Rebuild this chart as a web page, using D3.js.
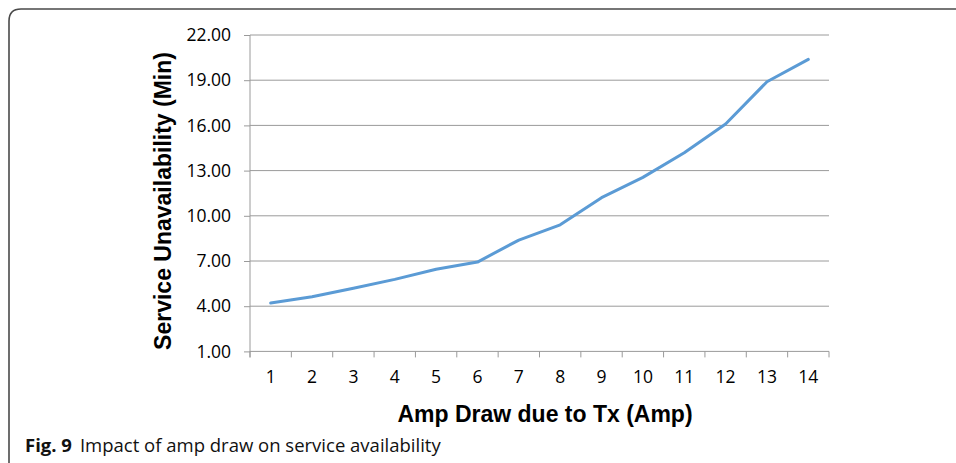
<!DOCTYPE html>
<html>
<head>
<meta charset="utf-8">
<script src="https://cdn.jsdelivr.net/npm/d3@7"></script>
<style>
html,body{margin:0;padding:0;background:#fff;}
svg{display:block;}
</style>
</head>
<body>
<svg id="chart" width="956" height="463"></svg>
<script>
const categories = ["1","2","3","4","5","6","7","8","9","10","11","12","13","14"];
const unavailability = [4.21, 4.63, 5.19, 5.78, 6.45, 6.93, 8.39, 9.40, 11.20, 12.55, 14.18, 16.09, 18.90, 20.38];
const yTicks = [1, 4, 7, 10, 13, 16, 19, 22];
const xTitle = "Amp Draw due to Tx (Amp)";
const yTitle = "Service Unavailability (Min)";
const captionBold = "Fig. 9";
const captionText = "Impact of amp draw on service availability";

(function () {
const svg = d3.select("#chart");
const pLeft = 250, pRight = 829, pTop = 35, pBottom = 351.4;

// frame
svg.append("path")
  .attr("d", "M9,470 L9,21 Q9,9 21,9 L960,9")
  .attr("fill", "none").attr("stroke", "#4a4a4a").attr("stroke-width", 1.6);

const x = d3.scaleBand().domain(categories).range([pLeft, pRight]);
const y = d3.scaleLinear().domain([1, 22]).range([pBottom, pTop]);

// gridlines
svg.append("g").selectAll("line").data(yTicks.filter(d => d > 1)).join("line")
  .attr("x1", pLeft).attr("x2", pRight)
  .attr("y1", d => y(d)).attr("y2", d => y(d))
  .attr("stroke", "#9a9a9a").attr("stroke-width", 1);

// y axis
const yAxis = svg.append("g").attr("transform", `translate(${pLeft},0)`)
  .call(d3.axisLeft(y).tickValues(yTicks).tickFormat(d3.format(".2f")).tickSize(6).tickPadding(13));
yAxis.select(".domain").attr("stroke", "#9a9a9a").attr("d", `M0,${pTop}V${pBottom + 6}`);
yAxis.selectAll(".tick line").attr("stroke", "#9a9a9a");
yAxis.selectAll("text").attr("font-family", "'Open Sans', sans-serif").attr("font-size", 17.5).attr("fill", "#000");

// x axis
const xAxis = svg.append("g").attr("transform", `translate(0,${pBottom})`)
  .call(d3.axisBottom(x).tickSize(0).tickPadding(19));
xAxis.select(".domain").attr("stroke", "#9a9a9a").attr("d", `M${pLeft},0H${pRight}`);
xAxis.selectAll("text").attr("font-family", "'Open Sans', sans-serif").attr("font-size", 17.5).attr("fill", "#000");
const edges = categories.map(c => x(c)).concat([x(categories[categories.length - 1]) + x.bandwidth()]);
xAxis.append("g").selectAll("line").data(edges).join("line")
  .attr("x1", d => d).attr("x2", d => d).attr("y1", 0).attr("y2", 6)
  .attr("stroke", "#9a9a9a");

// line
const line = d3.line()
  .x((d, i) => x(categories[i]) + x.bandwidth() / 2)
  .y(d => y(d));
svg.append("path").datum(unavailability)
  .attr("d", line).attr("fill", "none")
  .attr("stroke", "#5b9bd5").attr("stroke-width", 3)
  .attr("stroke-linejoin", "round").attr("stroke-linecap", "round");

// axis titles
svg.append("text").attr("x", 545).attr("y", 422)
  .attr("text-anchor", "middle").attr("font-family", "'Liberation Sans', Arial, sans-serif")
  .attr("font-weight", "bold").attr("font-size", 23).text(xTitle);
svg.append("text").attr("transform", "translate(171,201) rotate(-90)")
  .attr("text-anchor", "middle").attr("font-family", "'Liberation Sans', Arial, sans-serif")
  .attr("font-weight", "bold").attr("font-size", 23).text(yTitle);

// caption
const cap = svg.append("text").attr("x", 25).attr("y", 452)
  .attr("font-family", "'Open Sans', sans-serif").attr("font-size", 18.5).attr("fill", "#111");
cap.append("tspan").attr("font-weight", "bold").text(captionBold);
cap.append("tspan").attr("dx", 8).text(captionText);
})();
</script>
</body>
</html>
